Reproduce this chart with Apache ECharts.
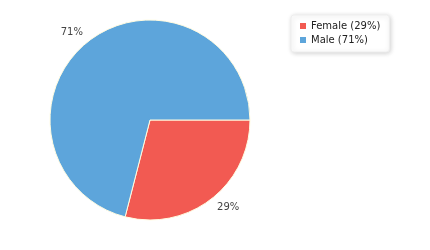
<!DOCTYPE html>
<html>
<head>
<meta charset="utf-8">
<script src="https://cdn.jsdelivr.net/npm/echarts@6/dist/echarts.min.js"></script>
<style>html,body{margin:0;padding:0;background:#fff;}#c{width:430px;height:250px;}</style>
</head>
<body>
<div id="c"></div>
<script>
const categories = ['Female', 'Male'];
const values = [29, 71];
const colors = ['#f25a52', '#5da5db'];

const chart = echarts.init(document.getElementById('c'), null, {renderer: 'canvas'});
const data = categories.map((c, i) => ({name: c, value: values[i]}));
const total = values.reduce((a, b) => a + b, 0);
const pct = v => Math.round(v / total * 100) + '%';
chart.setOption({
  animation: false,
  color: colors,
  legend: {
    orient: 'vertical',
    left: 291,
    top: 15,
    padding: [4, 9, 5, 9],
    itemWidth: 6,
    itemHeight: 6,
    itemGap: 0,
    icon: 'rect',
    itemStyle: {borderWidth: 0},
    backgroundColor: '#fff',
    borderColor: '#eeeeee',
    borderWidth: 1,
    borderRadius: 3,
    shadowBlur: 5,
    shadowColor: 'rgba(0,0,0,0.18)',
    shadowOffsetX: 1,
    shadowOffsetY: 1,
    textStyle: {fontFamily: 'DejaVu Sans', fontSize: 10, color: '#222', lineHeight: 14},
    formatter: name => name + ' (' + pct(values[categories.indexOf(name)]) + ')',
    data: categories
  },
  series: [{
    type: 'pie',
    center: [150, 120],
    radius: 100,
    startAngle: 0,
    clockwise: true,
    avoidLabelOverlap: false,
    itemStyle: {borderColor: '#fffbe0', borderWidth: 1},
    label: {
      show: true,
      position: 'outside',
      formatter: p => pct(p.value),
      fontFamily: 'DejaVu Sans',
      fontSize: 10,
      color: '#444',
      distanceToLabelLine: -1
    },
    labelLine: {show: false, length: 11, length2: 0},
    emphasis: {disabled: true},
    data: data
  }]
});
</script>
</body>
</html>
